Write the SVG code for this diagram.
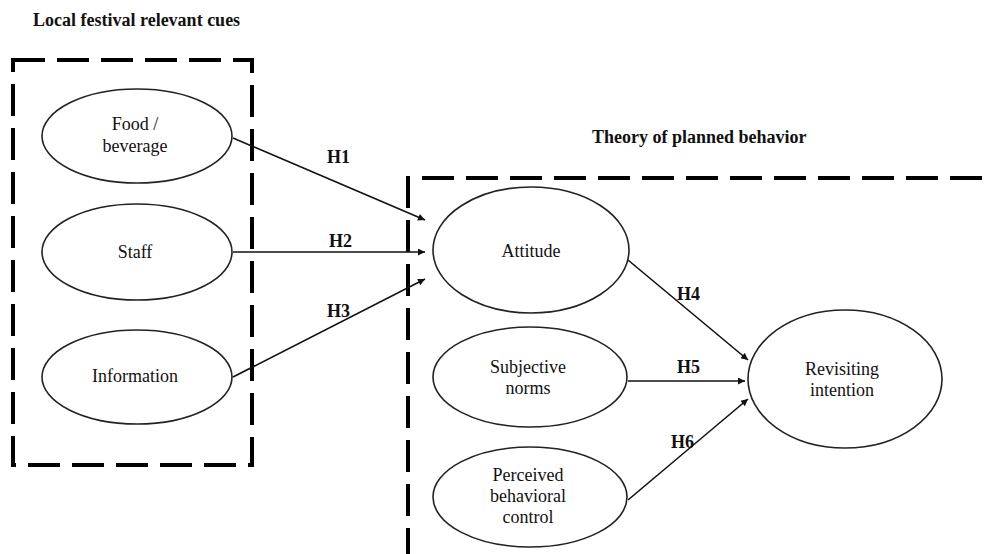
<svg xmlns="http://www.w3.org/2000/svg" width="984" height="554" viewBox="0 0 984 554">
<style>
.bg{fill:#fff}
.box{fill:none;stroke:#000;stroke-width:4;stroke-dasharray:32 12}
.node ellipse{fill:#fff;stroke:#222;stroke-width:1.6}
.node text{font-family:"Liberation Serif","Times New Roman",serif;font-size:18px;fill:#111;text-anchor:middle}
.title{font-family:"Liberation Serif","Times New Roman",serif;font-size:18px;font-weight:bold;fill:#111}
.lbl{font-family:"Liberation Serif","Times New Roman",serif;font-size:18px;font-weight:bold;fill:#111}
.conn line{stroke:#111;stroke-width:1.6;marker-end:url(#ah)}
</style>
<defs>
<marker id="ah" viewBox="0 0 10 10" refX="10" refY="5" markerWidth="9" markerHeight="7" markerUnits="userSpaceOnUse" orient="auto">
<path d="M0,0 L10,5 L0,10 Z" fill="#111"/>
</marker>
</defs>
<rect class="bg" x="0" y="0" width="984" height="554"/>
<text class="title" x="33" y="26">Local festival relevant cues</text>
<text class="title" x="592" y="143">Theory of planned behavior</text>
<g id="group-left">
<rect class="box" x="13" y="60" width="239" height="405"/>
</g>
<g id="group-right">
<path class="box" d="M408,560 L408,178 L990,178"/>
</g>
<g id="connectors" class="conn">
<line x1="233" y1="138" x2="425" y2="220"/>
<line x1="233" y1="252" x2="425" y2="252"/>
<line x1="233" y1="377" x2="425" y2="279"/>
<line x1="628" y1="260" x2="748" y2="360"/>
<line x1="628" y1="381" x2="745" y2="381"/>
<line x1="628" y1="500" x2="748" y2="399"/>
</g>
<g id="labels">
<text class="lbl" x="327" y="163">H1</text>
<text class="lbl" x="329" y="247">H2</text>
<text class="lbl" x="327" y="317">H3</text>
<text class="lbl" x="677" y="300">H4</text>
<text class="lbl" x="677" y="373">H5</text>
<text class="lbl" x="671" y="448">H6</text>
</g>
<g id="food" class="node">
<ellipse cx="137" cy="136" rx="95" ry="47"/>
<text x="135" y="130">Food /</text>
<text x="135" y="152">beverage</text>
</g>
<g id="staff" class="node">
<ellipse cx="137" cy="252" rx="95" ry="48"/>
<text x="135" y="258">Staff</text>
</g>
<g id="information" class="node">
<ellipse cx="137" cy="377" rx="95" ry="47"/>
<text x="135" y="382">Information</text>
</g>
<g id="attitude" class="node">
<ellipse cx="531" cy="250" rx="98" ry="63"/>
<text x="531" y="257">Attitude</text>
</g>
<g id="subjective" class="node">
<ellipse cx="530" cy="377" rx="97" ry="50"/>
<text x="528" y="373">Subjective</text>
<text x="528" y="394">norms</text>
</g>
<g id="perceived" class="node">
<ellipse cx="530" cy="497" rx="97" ry="50"/>
<text x="528" y="481">Perceived</text>
<text x="528" y="502">behavioral</text>
<text x="528" y="523">control</text>
</g>
<g id="revisiting" class="node">
<ellipse cx="845" cy="379" rx="97" ry="69"/>
<text x="842" y="375">Revisiting</text>
<text x="842" y="396">intention</text>
</g>
</svg>
